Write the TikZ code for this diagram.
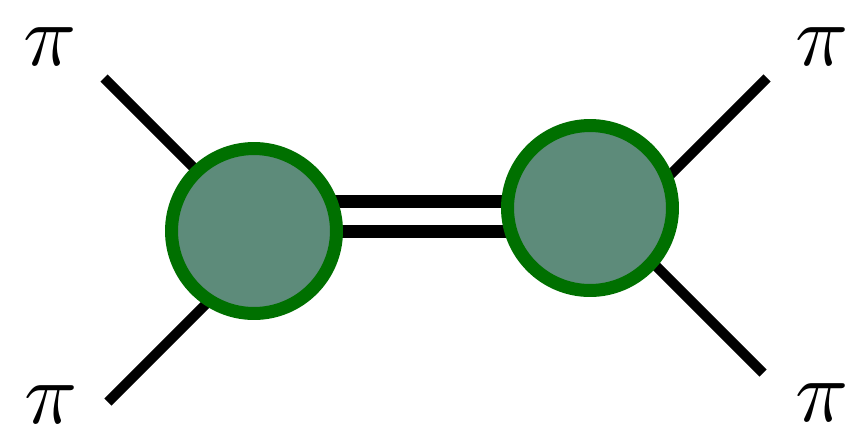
\documentclass[tikz,border=0pt]{standalone}
\usepackage{amsmath}
\usepackage{tikz}
\usetikzlibrary{positioning}
\DeclareFontFamily{OML}{cmm}{\skewchar\font'177}
\DeclareFontShape{OML}{cmm}{m}{it}{<-> cmmi10}{}
\definecolor{blobfill}{HTML}{5D8B7A}
\definecolor{blobedge}{HTML}{007000}
\begin{document}
\begin{tikzpicture}[x=0.02cm, y=-0.02cm,
  every node/.style={inner sep=0pt, outer sep=0pt},
  leg/.style={line width=5.7pt},
  bar/.style={line width=7.4pt},
  blob/.style={circle, draw=blobedge, fill=blobfill, line width=7.4pt, minimum size=3.3cm},
  pion/.style={font=\fontsize{50}{60}\selectfont}]
\useasboundingbox (0, 0) rectangle (845, 427);
\coordinate (ulEnd) at (104, 78);
\coordinate (llEnd) at (108, 402);
\coordinate (urEnd) at (767, 78);
\coordinate (lrEnd) at (763, 373);
\coordinate (ulIn) at (230, 204);
\coordinate (llIn) at (230, 280);
\coordinate (urIn) at (640, 205);
\coordinate (lrIn) at (630, 240);
\coordinate (barTopL) at (300, 201.5);
\coordinate (barTopR) at (545, 201.5);
\coordinate (barBotL) at (300, 231);
\coordinate (barBotR) at (545, 231);
\draw[leg] (ulEnd) -- (ulIn);
\draw[leg] (llEnd) -- (llIn);
\draw[leg] (urEnd) -- (urIn);
\draw[leg] (lrEnd) -- (lrIn);
\draw[bar] (barTopL) -- (barTopR);
\draw[bar] (barBotL) -- (barBotR);
\node[blob] (blobL) at (254, 231) {};
\node[blob] (blobR) at (590, 208) {};
\node[pion] (piUL) at (50, 47) {$\pi$};
\node[pion] (piLL) at (51, 405) {$\pi$};
\node[pion] (piUR) at (822, 47) {$\pi$};
\node[pion] (piLR) at (822, 403) {$\pi$};
\end{tikzpicture}
\end{document}
